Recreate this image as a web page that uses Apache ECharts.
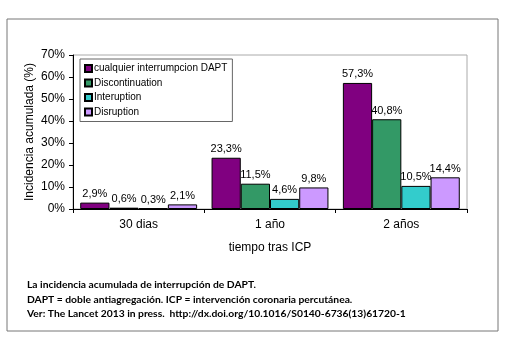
<!DOCTYPE html>
<html>
<head>
<meta charset="utf-8">
<script src="https://cdn.jsdelivr.net/npm/echarts@6/dist/echarts.min.js"></script>
<style>
html,body{margin:0;padding:0;background:#fff;}
#main{width:521px;height:354px;}
</style>
</head>
<body>
<div id="main"></div>
<script>
// categorias y series
var categorias = ['30 dias', '1 año', '2 años'];
var nombres = ['cualquier interrumpcion DAPT', 'Discontinuation', 'Interuption', 'Disruption'];
var colores = ['#800080', '#339966', '#33CCCC', '#CC99FF'];
var cualquier = [2.9, 23.3, 57.3];
var discontinuation = [0.6, 11.5, 40.8];
var interuption = [0.3, 4.6, 10.5];
var disruption = [2.1, 9.8, 14.4];
var notas = [
	'La incidencia acumulada de interrupción de DAPT.',
	'DAPT = doble antiagregación. ICP = intervención coronaria percutánea.',
	'Ver: The Lancet 2013 in press.  http://dx.doi.org/10.1016/S0140-6736(13)61720-1'
];

var valores = [cualquier, discontinuation, interuption, disruption];

function pct(v){
	return String(v).replace('.', ',') + '%';
}

var series = [];
for (var i = 0; i < valores.length; i++) {
	series.push({
		name: nombres[i],
		type: 'bar',
		data: valores[i],
		barGap: '0%',
		barCategoryGap: '11%',
		itemStyle: { color: colores[i], borderColor: '#000', borderWidth: 1 },
		label: {
			show: true, position: 'top', distance: 3,
			fontFamily: 'Liberation Sans', fontSize: 11, color: '#000',
			formatter: function(p){ return pct(p.value); }
		},
		emphasis: { disabled: true }
	});
}

var textos = [];
for (var j = 0; j < notas.length; j++) {
	textos.push({
		type: 'text', left: 27, top: 280 + j * 14.5,
		style: { text: notas[j], font: 'bold 10.3px Lato', fill: '#000' }
	});
}

var option = {
	animation: false,
	backgroundColor: '#fff',
	grid: { left: 73, top: 55, right: 54, bottom: 145, show: true, borderColor: '#aaa', borderWidth: 1, backgroundColor: 'transparent' },
	legend: {
		orient: 'vertical', left: 80, top: 59,
		data: nombres,
		icon: 'rect', itemWidth: 7, itemHeight: 7, itemGap: 3.5,
		padding: [4, 5, 4, 4],
		borderColor: '#666', borderWidth: 1, backgroundColor: '#fff',
		textStyle: { fontFamily: 'Liberation Sans', fontSize: 10, color: '#000', padding: [0, 0, 0, -3], lineHeight: 11 },
		selectedMode: false
	},
	xAxis: {
		type: 'category', data: categorias,
		name: 'tiempo tras ICP', nameLocation: 'middle', nameGap: 33,
		nameTextStyle: { fontFamily: 'Liberation Sans', fontSize: 12, color: '#000' },
		axisLine: { lineStyle: { color: '#000' } },
		axisTick: { show: true, length: 4, lineStyle: { color: '#000' } },
		axisLabel: { fontFamily: 'Liberation Sans', fontSize: 12, color: '#000', margin: 10 }
	},
	yAxis: {
		type: 'value', min: 0, max: 70, interval: 10,
		name: 'Incidencia acumulada (%)', nameLocation: 'middle', nameGap: 37, nameRotate: 90,
		nameMoveOverlap: false,
		nameTextStyle: { fontFamily: 'Liberation Sans', fontSize: 12, color: '#000' },
		axisLine: { show: true, lineStyle: { color: '#000' } },
		axisTick: { show: true, length: 4, lineStyle: { color: '#000' } },
		splitLine: { show: false },
		axisLabel: { fontFamily: 'Liberation Sans', fontSize: 12, color: '#000', margin: 8, formatter: '{value}%' }
	},
	graphic: [
		{ type: 'rect', shape: { x: 7, y: 19, width: 491, height: 312 }, style: { fill: 'none', stroke: '#777', lineWidth: 1 }, z: -1 }
	].concat(textos),
	series: series
};

var myChart = echarts.init(document.getElementById('main'));
myChart.setOption(option);
</script>
</body>
</html>
